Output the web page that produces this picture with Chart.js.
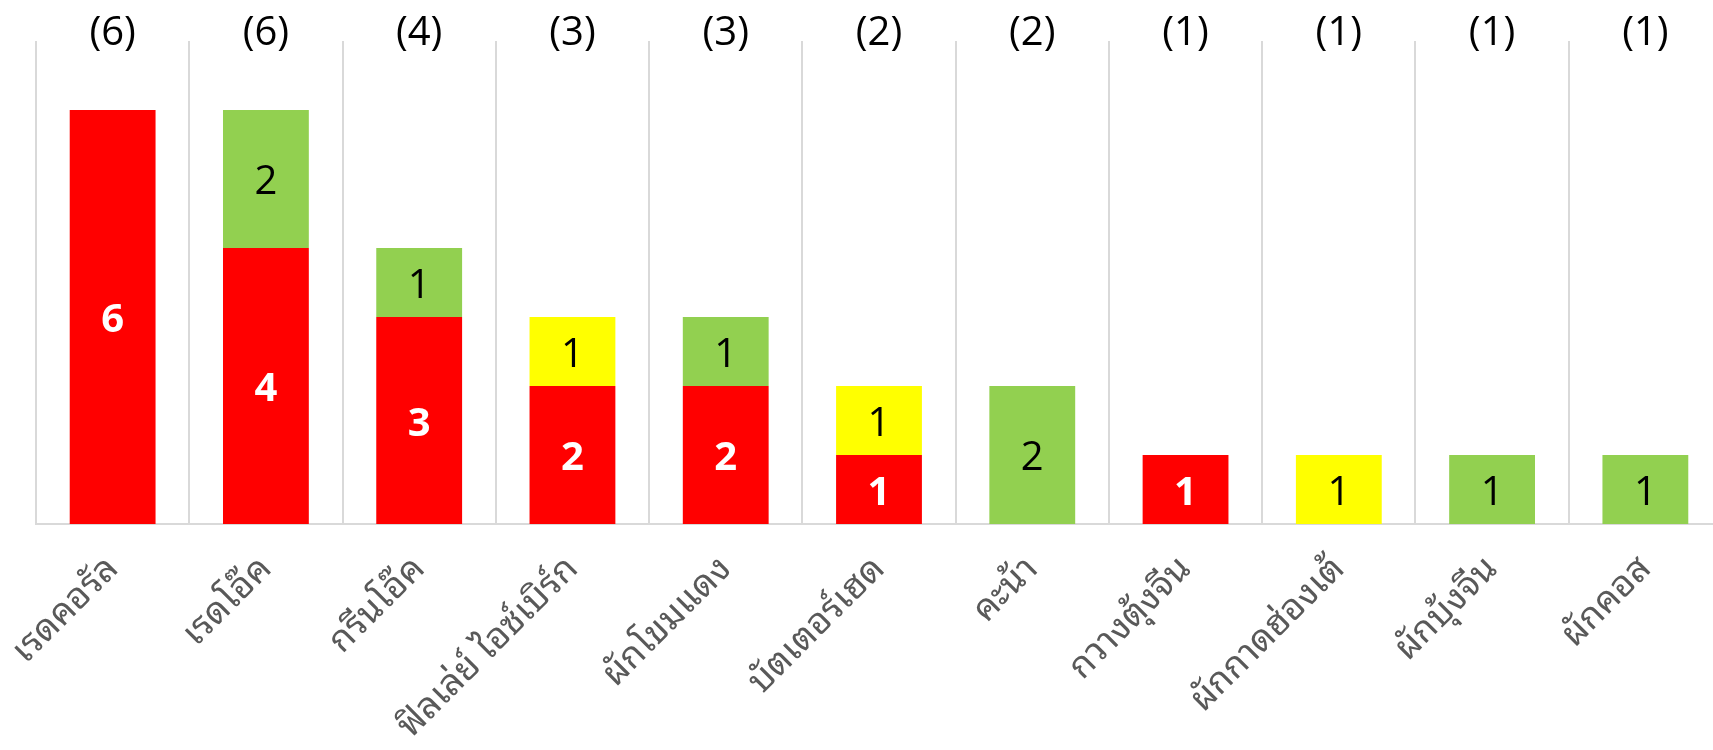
<!DOCTYPE html>
<html lang="th">
<head>
<meta charset="utf-8">
<title>ผักสลัดและผักพื้นบ้าน</title>
<script src="https://cdn.jsdelivr.net/npm/chart.js@4.4.1/dist/chart.umd.min.js"></script>
<style>
  html, body { margin: 0; padding: 0; background: #ffffff; overflow: hidden; }
  #wrap { position: relative; width: 1730px; height: 750px; }
</style>
</head>
<body>
<div id="wrap"><canvas id="chart"></canvas></div>
<script>
// Vegetable varieties (x-axis categories)
const categories = [
  'เรดคอรัล', 'เรดโอ๊ค', 'กรีนโอ๊ค', 'ฟิลเล่ย์ ไอซ์เบิร์ก', 'ผักโขมแดง',
  'บัตเตอร์เฮด', 'คะน้า', 'กวางตุ้งจีน', 'ผักกาดฮ่องเต้', 'ผักบุ้งจีน', 'ผักคอส'
];

// Stacked counts per colour group (red at the bottom)
const redValues    = [6, 4, 3, 2, 2, 1, 0, 1, 0, 0, 0];
const yellowValues = [0, 0, 0, 1, 0, 1, 0, 0, 1, 0, 0];
const greenValues  = [0, 2, 1, 0, 1, 0, 2, 0, 0, 1, 1];

// Value range of the hidden y axis
const yMin = 0;
const yMax = 7;

const NUM_FONT = '"Open Sans", "Liberation Sans", sans-serif';
const THAI_FONT = 'Tahoma, "Leelawadee UI", "Noto Sans Thai Looped", "Noto Sans Thai", "Garuda", "Loma", sans-serif';

// Draws the number inside every segment and the bracketed total above each column
const segmentLabels = {
  id: 'segmentLabels',
  afterDatasetsDraw(chart) {
    const ctx = chart.ctx;
    ctx.save();
    ctx.textAlign = 'center';
    ctx.textBaseline = 'middle';
    chart.data.datasets.forEach((ds, i) => {
      const meta = chart.getDatasetMeta(i);
      if (meta.hidden) return;
      meta.data.forEach((bar, j) => {
        const v = ds.data[j];
        if (!v) return;
        const p = bar.getProps(['x', 'y', 'base'], true);
        ctx.fillStyle = ds.labelColor;
        ctx.font = ds.labelWeight + ' 40px ' + NUM_FONT;
        ctx.fillText(String(v), p.x, (p.y + p.base) / 2 + 4);
      });
    });
    const first = chart.getDatasetMeta(0);
    ctx.fillStyle = '#000000';
    ctx.font = '400 40px ' + NUM_FONT;
    categories.forEach((c, j) => {
      const total = chart.data.datasets.reduce((s, ds) => s + (ds.data[j] || 0), 0);
      ctx.fillText('(' + total + ')', first.data[j].x, 34);
    });
    ctx.restore();
  }
};

new Chart(document.getElementById('chart'), {
  type: 'bar',
  data: {
    labels: categories,
    datasets: [
      { label: 'แดง', data: redValues, backgroundColor: '#FF0000', labelColor: '#FFFFFF', labelWeight: '700' },
      { label: 'เหลือง', data: yellowValues, backgroundColor: '#FFFF00', labelColor: '#000000', labelWeight: '400' },
      { label: 'เขียว', data: greenValues, backgroundColor: '#92D050', labelColor: '#000000', labelWeight: '400' }
    ]
  },
  options: {
    responsive: true,
    maintainAspectRatio: false,
    animation: false,
    layout: { padding: { left: 36, top: 41, right: 8, bottom: 0 } },
    plugins: {
      legend: { display: false },
      tooltip: { enabled: false }
    },
    datasets: {
      bar: { categoryPercentage: 1.0, barPercentage: 0.56, borderWidth: 0 }
    },
    scales: {
      x: {
        stacked: true,
        offset: true,
        // fixed label band below the axis; rotated labels may spill past the edges
        afterFit: (scale) => {
          scale.height = 226;
          scale.paddingLeft = 0;
          scale.paddingRight = 0;
        },
        grid: {
          display: true,
          offset: true,
          color: '#D9D9D9',
          lineWidth: 2,
          drawTicks: false
        },
        border: { display: true, color: '#D9D9D9', width: 2 },
        ticks: {
          autoSkip: false,
          minRotation: 45,
          maxRotation: 45,
          padding: 24,
          color: '#595959',
          font: { family: THAI_FONT, size: 36 }
        }
      },
      y: {
        stacked: true,
        display: false,
        min: yMin,
        max: yMax
      }
    }
  },
  plugins: [segmentLabels]
});
</script>
</body>
</html>
